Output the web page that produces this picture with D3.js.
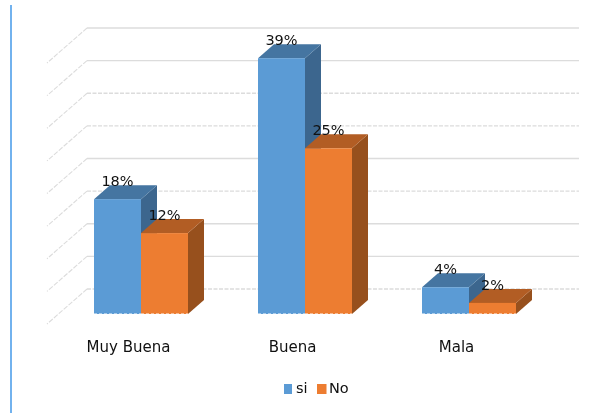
<!DOCTYPE html>
<html><head><meta charset="utf-8">
<script src="https://cdn.jsdelivr.net/npm/d3@7"></script>
<style>html,body{margin:0;padding:0;background:#fff}svg{display:block;filter:blur(0.35px)}text{font-family:"DejaVu Sans",sans-serif;fill:#111}</style>
</head><body><div id="chart"></div>
<script>
const categories = ["Muy Buena", "Buena", "Mala"];
const seriesNames = ["si", "No"];
const siValues = [17.6, 39.2, 4.1];
const noValues = [12.4, 25.4, 1.7];
const seriesColors = ["#5b9bd5", "#ed7d31"];
const topColors = ["#4575a1", "#b25d24"];
const sideColors = ["#3c668e", "#97501d"];
const dashedTicks = [0, 15, 25, 30];

const W = 616, H = 413;
const svg = d3.select("#chart").append("svg").attr("width", W).attr("height", H);

svg.append("line").attr("x1", 11).attr("x2", 11).attr("y1", 5).attr("y2", H)
  .attr("stroke", "#4f9fea").attr("stroke-width", 1.6);

// front plane of the bars and the plot's depth
const y = d3.scaleLinear().domain([0, 40]).range([314, 53]);
const wallOffset = {x: 28, y: -25};   // back wall relative to bar front plane
const floorOffset = {x: -12, y: 10};  // near floor edge relative to bar front plane
const barDepth = {x: 16, y: -14};
const x0Left = 59;

const x = d3.scaleBand().domain(categories).range([x0Left, x0Left + 492])
  .paddingInner(70 / 164).paddingOuter(35 / 164);
const xs = d3.scaleBand().domain(seriesNames).range([0, x.bandwidth()]);

const grid = svg.append("g").attr("fill", "none").attr("stroke", "#dcdcdc");
y.ticks(8).forEach(t => {
  const yy = y(t);
  const dash = dashedTicks.includes(t) ? "4 1.5" : null;
  grid.append("line")
    .attr("x1", x0Left + wallOffset.x).attr("x2", 579)
    .attr("y1", yy + wallOffset.y).attr("y2", yy + wallOffset.y)
    .attr("stroke-width", 1.4).attr("stroke-dasharray", dash);
  grid.append("line")
    .attr("x1", x0Left + wallOffset.x).attr("y1", yy + wallOffset.y)
    .attr("x2", x0Left + floorOffset.x).attr("y2", yy + floorOffset.y)
    .attr("stroke-width", 1.1).attr("stroke-dasharray", "5 1.5");
});

const poly = pts => pts.map(p => p.join(",")).join(" ");
const rows = categories.map((c, i) => [siValues[i], noValues[i]]);
const pct = d3.format(".0f");

categories.forEach((c, i) => {
  const g = svg.append("g");
  seriesNames.forEach((s, k) => {
    const v = rows[i][k];
    const l = x(c) + xs(s), r = l + xs.bandwidth(), t = y(v), b = y(0);
    const dx = barDepth.x, dy = barDepth.y;
    g.append("polygon").attr("fill", sideColors[k])
      .attr("points", poly([[r, t], [r + dx, t + dy], [r + dx, b + dy], [r, b]]));
    g.append("polygon").attr("fill", topColors[k])
      .attr("points", poly([[l, t], [l + dx, t + dy], [r + dx, t + dy], [r, t]]));
    g.append("rect").attr("x", l).attr("y", t).attr("width", r - l).attr("height", b - t)
      .attr("fill", seriesColors[k]);
    g.append("line").attr("x1", l).attr("x2", r).attr("y1", b).attr("y2", b)
      .attr("stroke", "#fff").attr("stroke-width", 1).attr("stroke-dasharray", "3 2");
  });
});

categories.forEach((c, i) => {
  seriesNames.forEach((s, k) => {
    const v = rows[i][k];
    svg.append("text").attr("x", x(c) + xs(s) + xs.bandwidth() / 2).attr("y", y(v) - 13)
      .attr("text-anchor", "middle").style("font-size", "14.5px").text(pct(v) + "%");
  });
  svg.append("text").attr("x", x(c) + x.bandwidth() / 2 - 12.5).attr("y", 352)
    .attr("text-anchor", "middle").style("font-size", "15px").text(c);
});

const legendX = d3.scaleOrdinal().domain(seriesNames).range([284, 317]);
seriesNames.forEach((s, k) => {
  svg.append("rect").attr("x", legendX(s)).attr("y", 384).attr("width", k ? 9.5 : 8).attr("height", 10)
    .attr("fill", seriesColors[k]);
  svg.append("text").attr("x", legendX(s) + 12).attr("y", 393)
    .style("font-size", "14.5px").text(s);
});
</script></body></html>
